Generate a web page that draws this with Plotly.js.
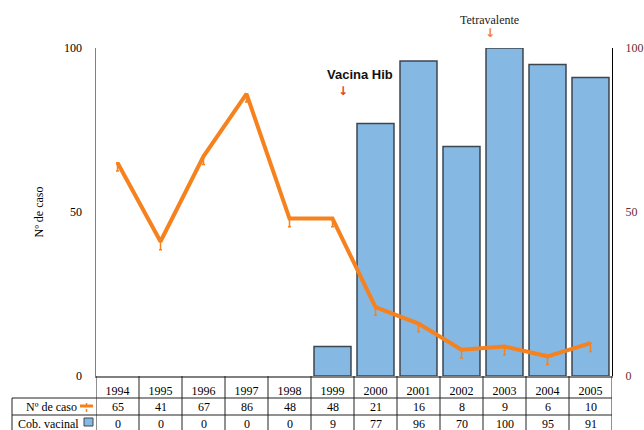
<!DOCTYPE html>
<html>
<head>
<meta charset="utf-8">
<script src="https://cdn.plot.ly/plotly-3.0.1.min.js"></script>
<style>
  body { margin: 0; background: #fff; }
  #chart { width: 644px; height: 430px; }
</style>
</head>
<body>
<div id="chart"></div>
<script>
// data
const years = [1994, 1995, 1996, 1997, 1998, 1999, 2000, 2001, 2002, 2003, 2004, 2005];
const casos = [65, 41, 67, 86, 48, 48, 21, 16, 8, 9, 6, 10];
const cobertura = [0, 0, 0, 0, 0, 9, 77, 96, 70, 100, 95, 91];

const orange = "#f5821f";
const serif = "Times New Roman";

// plot area in pixels: x 96..612, y 48..376
const plotH = 328, plotW = 516;
const py = Y => (376 - Y) / plotH;   // pixel row -> paper y
const px = X => (X - 96) / plotW;    // pixel col -> paper x

const traces = [{
    x: years,
    y: cobertura,
    type: "bar",
    name: "Cob. vacinal",
    width: 0.86,
    marker: {
        color: "#85b8e3",
        // no outline on empty bars
        line: {color: "#3c4650", width: cobertura.map(v => v > 0 ? 1.5 : 0)}
    }
}, {
    x: years,
    y: casos,
    type: "scatter",
    mode: "lines",
    yaxis: "y2",
    name: "Nº de caso",
    line: {color: orange, width: 4},
    error_y: {
        type: "data", symmetric: false,
        array: casos.map(() => 0), arrayminus: casos.map(() => 2.5),
        color: orange, thickness: 1.5, width: 1.5
    }
}];

const shapes = [];
const annotations = [];

// table grid: vertical lines at category boundaries
for (let i = 0; i <= years.length; i++) {
    shapes.push({type: "line", xref: "x", yref: "paper",
        x0: years[0] - 0.5 + i, x1: years[0] - 0.5 + i, y0: 0, y1: py(440),
        line: {color: "#222", width: 1}});
}
// horizontal rows
[398, 415].forEach(Y => {
    shapes.push({type: "line", xref: "paper", yref: "paper",
        x0: px(12), x1: 1, y0: py(Y), y1: py(Y),
        line: {color: "#222", width: 1}});
});
// left border of row header
shapes.push({type: "line", xref: "paper", yref: "paper",
    x0: px(12), x1: px(12), y0: py(398), y1: py(440),
    line: {color: "#222", width: 1}});

// legend keys in table
shapes.push({type: "line", xref: "paper", yref: "paper",
    x0: px(80), x1: px(93), y0: py(406), y1: py(406),
    line: {color: orange, width: 3}});
shapes.push({type: "line", xref: "paper", yref: "paper",
    x0: px(86.5), x1: px(86.5), y0: py(403), y1: py(413),
    line: {color: orange, width: 1.5, dash: "dot"}});
shapes.push({type: "rect", xref: "paper", yref: "paper",
    x0: px(84), x1: px(93), y0: py(418), y1: py(426),
    fillcolor: "#85b8e3", line: {color: "#3c4650", width: 1}});

// row labels
annotations.push({xref: "paper", yref: "paper", x: px(79), y: py(407),
    xanchor: "right", yanchor: "middle", showarrow: false,
    text: "Nº de caso", font: {family: serif, size: 12, color: "#000"}});
annotations.push({xref: "paper", yref: "paper", x: px(81), y: py(424),
    xanchor: "right", yanchor: "middle", showarrow: false,
    text: "Cob. vacinal", font: {family: serif, size: 12, color: "#000"}});

// table values
years.forEach((yr, i) => {
    annotations.push({xref: "x", yref: "paper", x: yr, y: py(407),
        yanchor: "middle", showarrow: false, text: String(casos[i]),
        font: {family: serif, size: 12, color: "#000"}});
    annotations.push({xref: "x", yref: "paper", x: yr, y: py(424),
        yanchor: "middle", showarrow: false, text: String(cobertura[i]),
        font: {family: serif, size: 12, color: "#000"}});
});

// vaccine notes
annotations.push({xref: "x", yref: "paper", x: 1999.65, y: py(75),
    yanchor: "middle", showarrow: false, text: "<b>Vacina Hib</b>",
    font: {family: "Liberation Sans", size: 13, color: "#111"}});
annotations.push({xref: "x", yref: "paper", x: 1999.25, y: py(91),
    yanchor: "middle", showarrow: false, text: "<b>↓</b>",
    font: {family: "DejaVu Sans", size: 12, color: "#e8402a"}});
annotations.push({xref: "x", yref: "paper", x: 2002.66, y: py(20),
    yanchor: "middle", showarrow: false, text: "Tetravalente",
    font: {family: serif, size: 12, color: "#222"}});
annotations.push({xref: "x", yref: "paper", x: 2002.66, y: py(33),
    yanchor: "middle", showarrow: false, text: "<b>↓</b>",
    font: {family: "DejaVu Sans", size: 12, color: orange}});

const layout = {
    width: 644,
    height: 430,
    margin: {l: 96, r: 32, t: 48, b: 54},
    paper_bgcolor: "#fff",
    plot_bgcolor: "#fff",
    showlegend: false,
    bargap: 0,
    xaxis: {
        range: [1993.5, 2005.5],
        tickvals: years,
        ticktext: years.map(String),
        ticks: "",
        ticklabelstandoff: 3,
        tickfont: {family: serif, size: 12, color: "#000"},
        showgrid: false, zeroline: false,
        showline: true, linecolor: "#808080", linewidth: 1.5,
        fixedrange: true
    },
    yaxis: {
        range: [0, 100],
        tickvals: [0, 50, 100],
        ticks: "",
        ticklabelstandoff: 10,
        tickfont: {family: serif, size: 12, color: "#000"},
        title: {text: "Nº de caso", font: {family: serif, size: 12, color: "#000"}, standoff: 18},
        showgrid: false, zeroline: false,
        showline: true, linecolor: "#808080", linewidth: 1.5
    },
    yaxis2: {
        overlaying: "y",
        side: "right",
        range: [0, 100],
        tickvals: [0, 50, 100],
        ticks: "",
        ticklabelstandoff: 10,
        tickfont: {family: serif, size: 12, color: "#6e2b2b"},
        showgrid: false, zeroline: false,
        showline: true, linecolor: "#000", linewidth: 1
    },
    shapes: shapes,
    annotations: annotations
};

Plotly.newPlot("chart", traces, layout, {displayModeBar: false, staticPlot: true});
</script>
</body>
</html>
